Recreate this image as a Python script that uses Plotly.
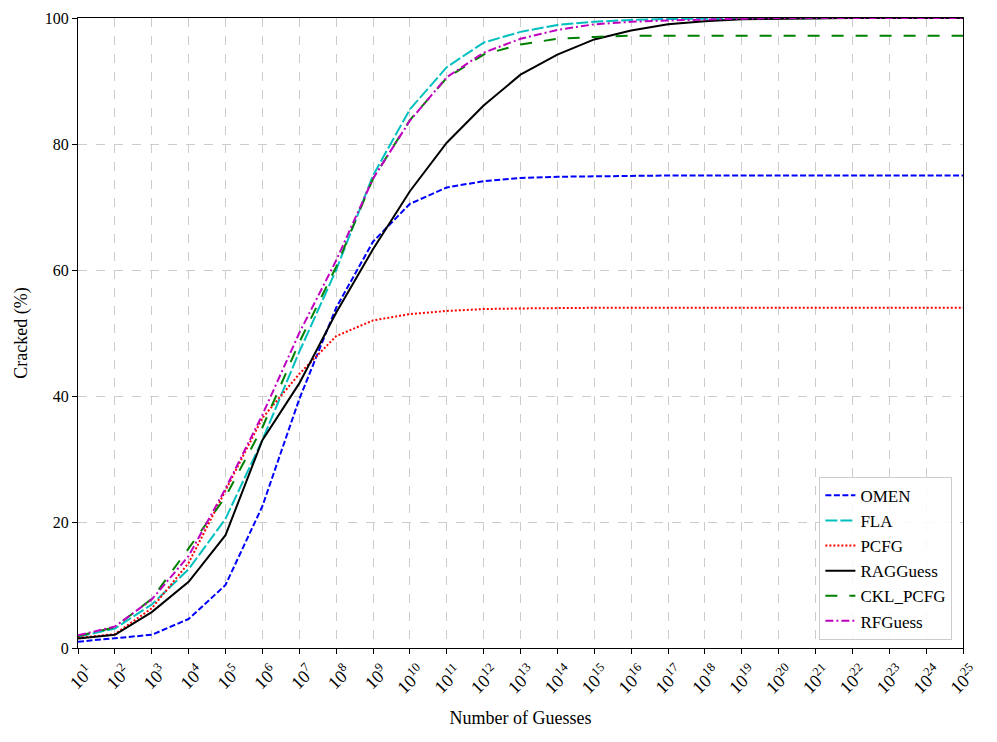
import plotly.graph_objs as go

# guesses at each decade, 10^1 .. 10^25
exponents = [1, 2, 3, 4, 5, 6, 7, 8, 9, 10, 11, 12, 13, 14, 15, 16, 17, 18, 19, 20, 21, 22, 23, 24, 25]
guesses = [1e1, 1e2, 1e3, 1e4, 1e5, 1e6, 1e7, 1e8, 1e9, 1e10, 1e11, 1e12, 1e13,
           1e14, 1e15, 1e16, 1e17, 1e18, 1e19, 1e20, 1e21, 1e22, 1e23, 1e24, 1e25]
tick_labels = ["10<sup>%d</sup>" % e for e in exponents]

omen = [1.0, 1.6, 2.1, 4.6, 10.0, 22.5, 39.5, 54.0, 64.5, 70.5, 73.1, 74.1, 74.6,
        74.8, 74.9, 75.0, 75.0, 75.0, 75.0, 75.0, 75.0, 75.0, 75.0, 75.0, 75.0]
fla = [1.8, 3.1, 6.9, 12.5, 20.5, 33.0, 47.0, 60.0, 75.0, 85.5, 92.2, 96.1, 97.8,
       98.9, 99.4, 99.7, 99.85, 99.9, 99.95, 100, 100, 100, 100, 100, 100]
pcfg = [1.6, 2.2, 6.3, 13.5, 25.0, 36.5, 43.5, 49.5, 52.0, 53.0, 53.5, 53.8, 53.9,
        54.0, 54.0, 54.0, 54.0, 54.0, 54.0, 54.0, 54.0, 54.0, 54.0, 54.0, 54.0]
ragguess = [1.5, 2.1, 5.7, 10.5, 17.9, 33.0, 42.0, 53.2, 63.3, 72.5, 80.2, 86.1, 91.0,
            94.2, 96.6, 98.0, 99.0, 99.5, 99.8, 99.9, 100, 100, 100, 100, 100]
ckl_pcfg = [1.9, 3.3, 7.8, 15.8, 24.0, 35.0, 48.5, 60.5, 74.5, 83.8, 90.5, 94.2, 95.8,
            96.7, 97.0, 97.2, 97.2, 97.2, 97.2, 97.2, 97.2, 97.2, 97.2, 97.2, 97.2]
rfguess = [2.0, 3.4, 7.7, 14.6, 25.3, 37.0, 50.0, 61.5, 74.5, 83.7, 90.6, 94.5, 96.7,
           98.1, 99.0, 99.4, 99.6, 99.8, 99.9, 100, 100, 100, 100, 100, 100]

series = [
    ("OMEN", omen, "#0000ff", "6px,2.5px"),
    ("FLA", fla, "#00bfbf", "12px,3px"),
    ("PCFG", pcfg, "#ff0000", "2px,2px"),
    ("RAGGuess", ragguess, "#000000", "solid"),
    ("CKL_PCFG", ckl_pcfg, "#008000", "12px,12px"),
    ("RFGuess", rfguess, "#bf00bf", "8px,3px,2px,3px"),
]

traces = []
for name, vals, color, dash in series:
    traces.append(go.Scatter(
        x=guesses, y=vals, name=name, mode="lines",
        line=dict(color=color, width=2, dash=dash),
    ))

font_family = "Liberation Serif"

# page body adds an 8px margin, so the figure is drawn 8px smaller
layout = go.Layout(
    width=989, height=734,
    margin=dict(l=70, r=34, t=10, b=94),
    paper_bgcolor="white", plot_bgcolor="white",
    font=dict(family=font_family, size=16, color="black"),
    xaxis=dict(
        type="log", range=[1, 25], automargin=False,
        tickvals=guesses, ticktext=tick_labels, tickangle=-45,
        ticklabelshift=10,
        showgrid=True, gridcolor="#cccccc", griddash="dash", gridwidth=1,
        showline=True, linecolor="black", linewidth=1.3, mirror=True,
        ticks="outside", ticklen=5, tickcolor="black",
        tickfont=dict(size=18),
        title=dict(text="Number of Guesses", font=dict(size=18), standoff=14),
        zeroline=False,
    ),
    yaxis=dict(
        range=[0, 100], tickvals=[0, 20, 40, 60, 80, 100], automargin=False,
        showgrid=True, gridcolor="#cccccc", griddash="dash", gridwidth=1,
        showline=True, linecolor="black", linewidth=1.3, mirror=True,
        ticks="outside", ticklen=5, tickcolor="black",
        tickfont=dict(size=16),
        title=dict(text="Cracked (%)", font=dict(size=18), standoff=12),
        zeroline=False,
    ),
    legend=dict(
        x=0.988, y=0.013, xanchor="right", yanchor="bottom",
        bgcolor="rgba(255,255,255,0.85)", bordercolor="#cccccc", borderwidth=1,
        font=dict(size=17, family=font_family),
        entrywidth=112,
    ),
    showlegend=True,
)

fig = go.Figure(data=traces, layout=layout)
fig.write_html("out.html")
